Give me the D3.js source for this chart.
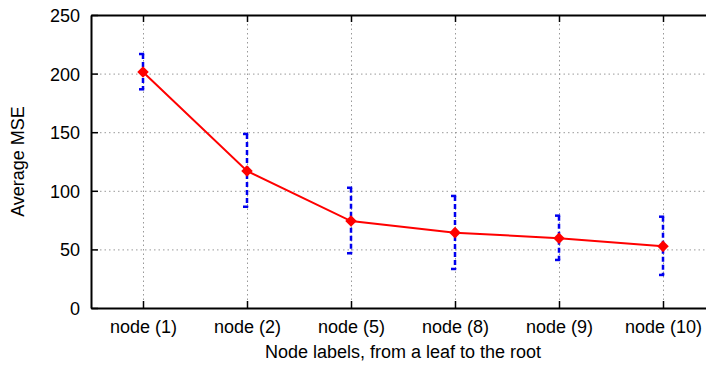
<!DOCTYPE html>
<html><head><meta charset="utf-8">
<script src="https://cdn.jsdelivr.net/npm/d3@7"></script>
<style>body{margin:0;background:#fff}svg{display:block}</style>
</head><body>
<script>
const categories = ["node (1)","node (2)","node (5)","node (8)","node (9)","node (10)"];
const meanValues = [201.4, 116.9, 74.2, 64.3, 59.5, 52.6];
const lowValues  = [186.6, 86.4, 46.7, 33.3, 41.0, 28.2];
const highValues = [216.7, 148.5, 102.6, 95.6, 78.8, 77.9];
const yTicks = [0, 50, 100, 150, 200, 250];
const xTitle = "Node labels, from a leaf to the root";
const yTitle = "Average MSE";

const W = 706, H = 365;
const m = {left: 91, top: 15, right: 715, bottom: 308};
const svg = d3.select("body").append("svg").attr("width", W).attr("height", H);
const font = "'Liberation Sans', Arial, Helvetica, sans-serif";
const fs = 18;

const x = d3.scalePoint().domain(categories).range([m.left, m.right]).padding(0.5);
const y = d3.scaleLinear().domain([0, 250]).range([m.bottom, m.top]);

// grid
const grid = svg.append("g").attr("stroke", "#999").attr("stroke-width", 1).attr("stroke-dasharray", "1.5,3");
grid.selectAll(".gy").data(yTicks.filter(d => d > 0 && d < 250)).enter().append("line")
  .attr("x1", m.left).attr("x2", m.right).attr("y1", d => y(d) + 0.5).attr("y2", d => y(d) + 0.5);
grid.selectAll(".gx").data(categories).enter().append("line")
  .attr("x1", d => x(d) + 0.5).attr("x2", d => x(d) + 0.5).attr("y1", m.top).attr("y2", m.bottom);

// axes
const yAxis = d3.axisLeft(y).tickValues(yTicks).tickSizeInner(-7).tickSizeOuter(0).tickPadding(11);
const gy = svg.append("g").attr("transform", `translate(${m.left},0)`).call(yAxis);
const xAxis = d3.axisBottom(x).tickSizeInner(-7).tickSizeOuter(0).tickPadding(12);
const gx = svg.append("g").attr("transform", `translate(0,${m.bottom})`).call(xAxis);
const xTop = d3.axisTop(x).tickSizeInner(-7).tickSizeOuter(0).tickFormat("");
const gt = svg.append("g").attr("transform", `translate(0,${m.top})`).call(xTop);
[gy, gx, gt].forEach(g => {
  g.attr("font-size", fs).attr("font-family", font);
  g.selectAll(".domain").attr("stroke", "#000").attr("stroke-width", 2);
  g.selectAll(".tick line").attr("stroke", "#000").attr("stroke-width", 1.5);
  g.selectAll("text").attr("font-family", font).attr("font-size", fs).attr("fill", "#000");
});
gy.selectAll(".tick text").attr("dy", "0.36em");

// error bars
const eb = svg.append("g").attr("stroke", "#0000ee").attr("fill", "none");
categories.forEach((c, i) => {
  const cx = x(c);
  eb.append("line").attr("x1", cx).attr("x2", cx)
    .attr("y1", y(highValues[i])).attr("y2", y(lowValues[i]))
    .attr("stroke-width", 2.5).attr("stroke-dasharray", "5,3");
  eb.append("line").attr("x1", cx - 4).attr("x2", cx + 1.2)
    .attr("y1", y(highValues[i])).attr("y2", y(highValues[i])).attr("stroke-width", 2.5);
  eb.append("line").attr("x1", cx - 4).attr("x2", cx + 1.2)
    .attr("y1", y(lowValues[i])).attr("y2", y(lowValues[i])).attr("stroke-width", 2.5);
});

// line
const line = d3.line().x((d, i) => x(categories[i])).y(d => y(d));
svg.append("path").datum(meanValues).attr("d", line)
  .attr("fill", "none").attr("stroke", "#ff0000").attr("stroke-width", 2);
svg.append("g").selectAll("path").data(meanValues).enter().append("path")
  .attr("d", d3.symbol().type(d3.symbolDiamond2).size(85))
  .attr("transform", (d, i) => `translate(${x(categories[i])},${y(d)})`)
  .attr("fill", "#ff0000");

// titles
svg.append("text").attr("x", 403).attr("y", 358)
  .attr("text-anchor", "middle").attr("font-family", font).attr("font-size", fs).text(xTitle);
svg.append("text").attr("transform", `translate(24,${(m.top + m.bottom) / 2}) rotate(-90)`)
  .attr("text-anchor", "middle").attr("font-family", font).attr("font-size", fs).text(yTitle);
</script>
</body></html>
